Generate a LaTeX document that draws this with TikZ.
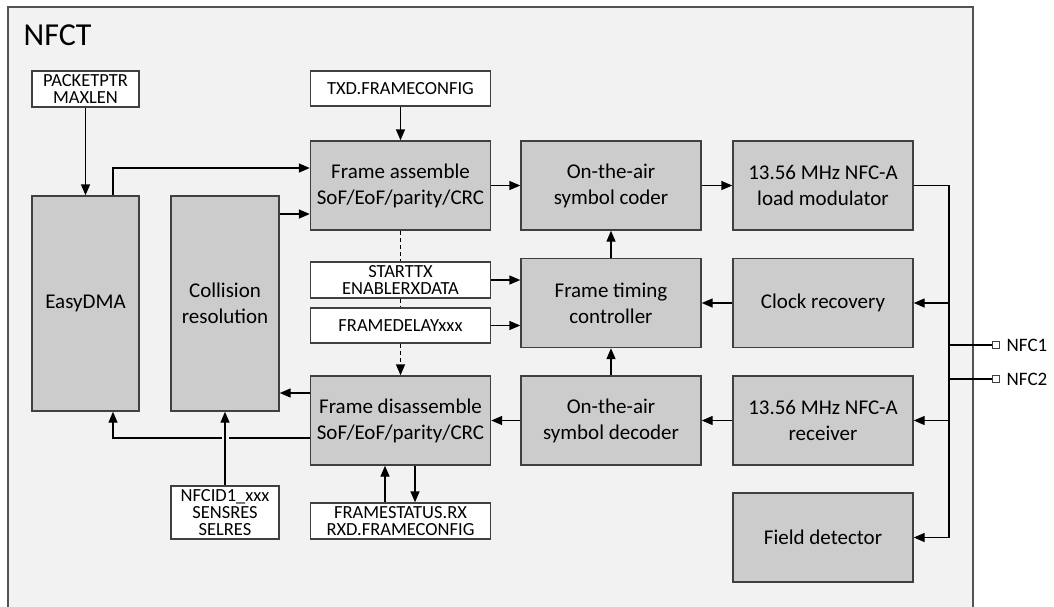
\documentclass[tikz,border=0pt]{standalone}
\usepackage{fontspec}
\setmainfont{Carlito}
\usetikzlibrary{arrows.meta}
\definecolor{blockgray}{HTML}{CCCCCC}
\definecolor{framegray}{HTML}{F2F2F2}
\definecolor{edgegray}{HTML}{404040}

\begin{document}
\begin{tikzpicture}[x=1pt,y=-1pt,line width=1.4pt,
  blk/.style={draw=edgegray,fill=blockgray,minimum width=180pt,minimum height=89pt,align=center,inner sep=0pt,font=\fontsize{21}{26}\selectfont},
  reg/.style={draw=edgegray,fill=white,align=center,inner sep=0pt,font=\fontsize{18.5}{17}\selectfont},
  conn/.style={-{Triangle[length=11pt,width=9pt]}}]
\useasboundingbox (0,0) rectangle (1054,606);
\fill[white] (0,0) rectangle (1054,606);
\draw[draw=edgegray!90,fill=framegray,line width=1.6pt] (8,7) rectangle (973,620);
\node[anchor=base west,inner sep=0pt,font=\fontsize{32}{32}\selectfont] (title) at (23,45) {NFCT};

\node[blk,minimum width=107pt,minimum height=215pt] (dma) at (85.5,303.5) {EasyDMA};
\node[blk,minimum width=108pt,minimum height=215pt] (coll) at (225,303.5) {Collision\\resolution};
\node[blk] (fa) at (400.5,185.5) {Frame assemble\\SoF/EoF/parity/CRC};
\node[blk] (coder) at (611,185.5) {On-the-air\\symbol coder};
\node[blk] (mod) at (823,185.5) {13.56 MHz NFC-A\\load modulator};
\node[blk] (timing) at (611,303) {Frame timing\\controller};
\node[blk] (clk) at (823,303) {Clock recovery};
\node[blk] (fd) at (400.5,420.5) {Frame disassemble\\SoF/EoF/parity/CRC};
\node[blk] (dec) at (611,420.5) {On-the-air\\symbol decoder};
\node[blk] (rcv) at (823,420.5) {13.56 MHz NFC-A\\receiver};
\node[blk] (field) at (823,537.5) {Field detector};

\node[reg,minimum width=107pt,minimum height=36pt] (pkt) at (85.5,89) {PACKETPTR\\MAXLEN};
\node[reg,minimum width=180pt,minimum height=35pt] (txd) at (400.5,88.5) {TXD.FRAMECONFIG};
\node[reg,minimum width=180pt,minimum height=36pt] (starttx) at (400.5,280) {STARTTX\\ENABLERXDATA};
\node[reg,minimum width=180pt,minimum height=35pt] (fdelay) at (400.5,325.5) {FRAMEDELAYxxx};
\node[reg,minimum width=108pt,minimum height=53pt] (nfcid) at (225,512.5) {NFCID1\_xxx\\SENSRES\\SELRES};
\node[reg,minimum width=180pt,minimum height=36pt] (fstat) at (400.5,521) {FRAMESTATUS.RX\\RXD.FRAMECONFIG};

\node[draw=edgegray,fill=white,line width=1pt,minimum size=7pt,inner sep=0pt] (nfc1pin) at (996,345) {};
\node[draw=edgegray,fill=white,line width=1pt,minimum size=7pt,inner sep=0pt] (nfc2pin) at (996,379) {};
\node[anchor=west,inner sep=0pt,font=\fontsize{19}{19}\selectfont] (nfc1) at (1006,345) {NFC1};
\node[anchor=west,inner sep=0pt,font=\fontsize{19}{19}\selectfont] (nfc2) at (1006,379) {NFC2};

\coordinate (busx) at (949,0);
\coordinate (hopR) at (229,438);
\coordinate (hopL) at (222,438);

\draw[conn] (pkt) -- (dma);
\draw[conn] ([xshift=27.5pt]dma.north) |- ([yshift=17.5pt]fa.west);
\draw[conn] ([yshift=-28.5pt]fa.west -| coll.east) -- ([yshift=-28.5pt]fa.west);
\draw[conn] (txd) -- (fa);
\draw[conn] (fa) -- (coder);
\draw[conn] (coder) -- (mod);
\draw[conn] (mod.east) -- (mod.east -| busx) -- (field.east -| busx) -- (field.east);
\draw[conn] (clk.east -| busx) -- (clk.east);
\draw[conn] (rcv.east -| busx) -- (rcv.east);
\draw (nfc1pin.west -| busx) -- (nfc1pin);
\draw (nfc2pin.west -| busx) -- (nfc2pin);
\draw[conn] (clk) -- (timing);
\draw[conn] (timing) -- (coder);
\draw[conn] (dec) -- (timing);
\draw[conn] (rcv) -- (dec);
\draw[conn] (dec) -- (fd);
\draw[conn] (starttx.east) -- (starttx.east -| timing.west);
\draw[conn] (fdelay.east) -- (fdelay.east -| timing.west);
\draw[dash pattern=on 4pt off 3pt] (fa.south) -- (starttx.north);
\draw[dash pattern=on 4pt off 3pt] (starttx.south) -- (fdelay.north);
\draw[conn,dash pattern=on 4pt off 3pt] (fdelay.south) -- (fd.north);
\draw[conn] ([yshift=27.5pt]fd.west) -- ([yshift=27.5pt]fd.west -| coll.east);
\draw ([yshift=-17.5pt]fd.west) -- (hopR);
\draw[conn] (hopL) -| ([xshift=27.5pt]dma.south);
\draw[conn] (nfcid) -- (coll);
\draw[conn] ([xshift=-15.5pt]fstat.north) -- ([xshift=-15.5pt]fd.south);
\draw[conn] ([xshift=14.5pt]fd.south) -- ([xshift=14.5pt]fstat.north);
\end{tikzpicture}
\end{document}
